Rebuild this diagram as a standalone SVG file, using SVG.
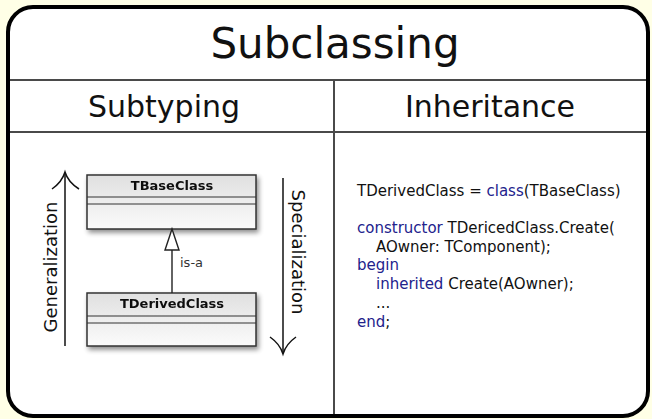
<svg xmlns="http://www.w3.org/2000/svg" width="652" height="419" viewBox="0 0 652 419">
  <style>
    .title { font-family: "DejaVu Sans", sans-serif; font-size: 42px; fill: #111; text-anchor: middle; }
    .head { font-family: "DejaVu Sans", sans-serif; font-size: 30px; fill: #111; text-anchor: middle; }
    .side { font-family: "DejaVu Sans", sans-serif; font-size: 18px; fill: #111; text-anchor: middle; }
    .cls { font-family: "DejaVu Sans", sans-serif; font-size: 13px; font-weight: bold; fill: #111; text-anchor: middle; }
    .lbl { font-family: "DejaVu Sans", sans-serif; font-size: 13px; fill: #333; }
    .code { font-family: "DejaVu Sans", sans-serif; font-size: 15px; fill: #111; }
    .kw { fill: #22228c; }
    .rule { stroke: #4a4a4a; stroke-width: 2; fill: none; }
    .box { fill: url(#boxFill); stroke: #333; stroke-width: 1.5; }
    .sep { stroke: #333; stroke-width: 1.2; }
    .arrow { stroke: #111; stroke-width: 1.5; fill: none; }
  </style>
  <defs>
    <linearGradient id="boxFill" x1="0" y1="0" x2="0" y2="1">
      <stop offset="0" stop-color="#e0e0e0"/>
      <stop offset="1" stop-color="#fbfbfb"/>
    </linearGradient>
    <filter id="shadow" x="-20%" y="-20%" width="140%" height="150%">
      <feGaussianBlur in="SourceAlpha" stdDeviation="2.5"/>
      <feOffset dx="2" dy="3" result="b"/>
      <feComponentTransfer><feFuncA type="linear" slope="0.45"/></feComponentTransfer>
      <feMerge><feMergeNode/><feMergeNode in="SourceGraphic"/></feMerge>
    </filter>
  </defs>

  <!-- page background -->
  <rect x="0" y="0" width="652" height="419" fill="#ffffe6"/>

  <!-- frame and table rules -->
  <g id="frame">
    <rect x="8" y="7" width="640" height="409" rx="25" ry="25" fill="#fff" stroke="#000" stroke-width="4"/>
    <line class="rule" x1="10" y1="80" x2="646" y2="80"/>
    <line class="rule" x1="10" y1="132" x2="646" y2="132"/>
    <line class="rule" x1="334" y1="80" x2="334" y2="414"/>
    <text class="title" x="335" y="58">Subclassing</text>
    <text class="head" x="164" y="117">Subtyping</text>
    <text class="head" x="490" y="117">Inheritance</text>
  </g>

  <!-- direction arrows -->
  <g id="generalization">
    <line class="arrow" x1="65" y1="346" x2="65" y2="173"/>
    <path class="arrow" d="M52,189 Q62,182 65,172 Q68,182 79,189"/>
    <text class="side" transform="translate(57,267) rotate(-90)">Generalization</text>
  </g>
  <g id="specialization">
    <line class="arrow" x1="283" y1="178" x2="283" y2="353"/>
    <path class="arrow" d="M270,337 Q280,344 283,354 Q286,344 296,337"/>
    <text class="side" transform="translate(292,252) rotate(90)">Specialization</text>
  </g>

  <!-- class nodes -->
  <g id="TBaseClass" filter="url(#shadow)">
    <rect class="box" x="87" y="175" width="169" height="54"/>
    <line class="sep" x1="87" y1="197" x2="256" y2="197"/>
    <line class="sep" x1="87" y1="204" x2="256" y2="204"/>
    <text class="cls" x="172" y="190">TBaseClass</text>
  </g>
  <g id="TDerivedClass" filter="url(#shadow)">
    <rect class="box" x="87" y="293" width="169" height="53"/>
    <line class="sep" x1="87" y1="316" x2="256" y2="316"/>
    <line class="sep" x1="87" y1="323" x2="256" y2="323"/>
    <text class="cls" x="172" y="308">TDerivedClass</text>
  </g>

  <!-- generalization connector -->
  <g id="connectors">
    <line x1="172" y1="293" x2="172" y2="250" stroke="#222" stroke-width="1.4"/>
    <polygon points="172,229 165,250 179,250" fill="#fff" stroke="#222" stroke-width="1.4"/>
    <text class="lbl" x="180" y="267">is-a</text>
  </g>

  <!-- source listing -->
  <g id="code">
    <text class="code" x="357" y="196">TDerivedClass = <tspan class="kw">class</tspan>(TBaseClass)</text>
    <text class="code" x="357" y="233"><tspan class="kw">constructor</tspan> TDericedClass.Create(</text>
    <text class="code" x="376" y="252">AOwner: TComponent);</text>
    <text class="code" x="357" y="270"><tspan class="kw">begin</tspan></text>
    <text class="code" x="376" y="289"><tspan class="kw">inherited</tspan> Create(AOwner);</text>
    <text class="code" x="376" y="308" fill="#444">...</text>
    <text class="code" x="357" y="327"><tspan class="kw">end</tspan>;</text>
  </g>
</svg>
